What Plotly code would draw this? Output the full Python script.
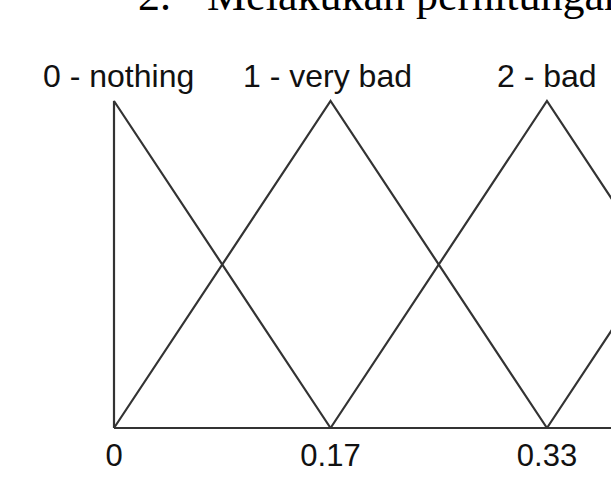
import plotly.graph_objects as go

# Membership functions (triangular)
mf_names = ["0 - nothing", "1 - very bad", "2 - bad"]
mf_left = [0.0, 0.0, 0.1667, 0.3333]
mf_peak = [0.0, 0.1667, 0.3333, 0.5]
mf_right = [0.1667, 0.3333, 0.5, 0.6667]

tick_vals = [0.0, 0.1667, 0.3333]
tick_text = ["0", "0.17", "0.33"]

heading_number = "2."
heading_text = "Melakukan perhitungan"

LINE = "#333333"
TXT = "#111111"
W, H = 611, 492
MB = 58
PH = H - MB
label_xshift = [4, -3, 0]

fig = go.Figure()

for i in range(len(mf_peak)):
    fig.add_trace(go.Scatter(
        x=[mf_left[i], mf_peak[i], mf_right[i]],
        y=[0, 1, 0],
        mode="lines",
        line=dict(color=LINE, width=2.2),
        hoverinfo="skip", showlegend=False))

# baseline
fig.add_trace(go.Scatter(
    x=[mf_left[0], mf_right[-1]], y=[0, 0], mode="lines",
    line=dict(color=LINE, width=2.2), hoverinfo="skip", showlegend=False))

annotations = []
for i, name in enumerate(mf_names):
    annotations.append(dict(
        x=mf_peak[i], y=1.0765, xref="x", yref="y", text=name,
        showarrow=False, xanchor="center", yanchor="middle", xshift=label_xshift[i],
        font=dict(family="Liberation Sans, Arial", size=32, color=TXT)))

annotations.append(dict(
    x=136 / W, y=(PH - 22) / PH, xref="paper", yref="paper", text=heading_number,
    showarrow=False, xanchor="left", yanchor="bottom",
    font=dict(family="Liberation Serif, Times New Roman", size=44, color="#000000")))
annotations.append(dict(
    x=205 / W, y=(PH - 22) / PH, xref="paper", yref="paper", text=heading_text,
    showarrow=False, xanchor="left", yanchor="bottom",
    font=dict(family="Liberation Serif, Times New Roman", size=44, color="#000000")))

fig.update_layout(
    width=W, height=H,
    margin=dict(l=0, r=0, t=0, b=MB, pad=0),
    paper_bgcolor="white", plot_bgcolor="white",
    xaxis=dict(range=[-0.08776, 0.38260], showgrid=False, zeroline=False,
               showline=False, ticks="", tickvals=tick_vals, ticktext=tick_text,
               tickfont=dict(family="Liberation Sans, Arial", size=31, color=TXT)),
    yaxis=dict(range=[-0.01835, 1.3089], visible=False, showgrid=False, zeroline=False),
    annotations=annotations,
    showlegend=False,
)

fig.write_html(
    "out.html",
    config={"displayModeBar": False},
    post_script="document.body.style.margin='0';document.body.style.overflow='hidden';",
)
